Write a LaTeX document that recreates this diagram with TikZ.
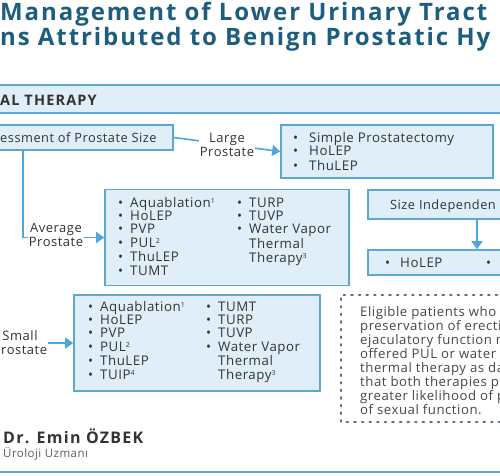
\documentclass[tikz,border=0pt]{standalone}
\usepackage{fontspec}
\setmainfont{Open Sans}[LetterSpace=4]
\newfontfamily\titlefont{Open Sans}[LetterSpace=8]
\usetikzlibrary{arrows.meta}
\definecolor{titlec}{HTML}{1D5E7E}
\definecolor{boxline}{HTML}{5EA7D3}
\definecolor{boxfill}{HTML}{DFEEF9}
\definecolor{arrowc}{HTML}{4FA6DA}
\definecolor{txt}{HTML}{333333}
\definecolor{dotc}{HTML}{55708A}
\newcommand\bl{\makebox[12pt][l]{\textbullet}}
\newcommand\blw{\makebox[16pt][l]{\textbullet}}
\newcommand\ind{\hspace*{12pt}}
\newcommand\sups[1]{\raisebox{4pt}{\fontsize{7}{8}\selectfont #1}}
\tikzset{
  box/.style={draw=boxline, fill=boxfill, line width=1.6pt, inner sep=0pt},
  arr/.style={draw=arrowc, line width=1.6pt, -{Triangle[length=8pt,width=11pt]}},
  lab/.style={fill=white, inner sep=1pt, align=center, text=txt, font={\fontsize{13}{14}\selectfont}},
  lst/.style={anchor=base west, inner sep=0pt, text=txt, font={\fontsize{13.3}{13.3}\selectfont}},
  boxtxt/.style={anchor=base west, inner sep=0pt, text=txt, font={\fontsize{12.8}{14}\selectfont}},
  ttl/.style={anchor=base west, inner sep=0pt, text=titlec, font={\titlefont\bfseries\fontsize{24}{28}\selectfont}}
}
\begin{document}
\begin{tikzpicture}[x=1pt,y=-1pt]
\useasboundingbox (0,0) rectangle (500,475);
\clip (0,0) rectangle (500,475);
% title
\node[ttl] (t1) at (0,20) {Management of Lower Urinary Tract};
\node[ttl] (t2) at (0,45) {ns Attributed to Benign Prostatic Hy};
% header band
\node[box, minimum width=520pt, minimum height=28pt] (hdr) at (250,99) {};
\node[anchor=base west, inner sep=0pt, text=txt, font={\titlefont\bfseries\fontsize{14.5}{16}\selectfont}] (hdrt) at (0,105) {AL THERAPY};
% assessment
\node[box, minimum width=188pt, minimum height=25pt] (assess) at (79,137.5) {};
\node[boxtxt] (assesst) at (0,142.5) {essment of Prostate Size};
% large
\node[box, minimum width=212pt, minimum height=53pt] (large) at (387,151.5) {};
\node[lst] (largel) at (293,142.5) {\begin{tabular}[t]{@{}l@{}}\blw Simple Prostatectomy\\ \blw HoLEP\\ \blw ThuLEP\end{tabular}};
% average
\node[box, minimum width=244pt, minimum height=96pt] (avg) at (227,237.5) {};
\node[lst] (avg1) at (118,207) {\begin{tabular}[t]{@{}l@{}}\bl Aquablation\sups{1}\\ \bl HoLEP\\ \bl PVP\\ \bl PUL\sups{2}\\ \bl ThuLEP\\ \bl TUMT\end{tabular}};
\node[lst] (avg2) at (237,207) {\begin{tabular}[t]{@{}l@{}}\bl TURP\\ \bl TUVP\\ \bl Water Vapor\\ \ind Thermal\\ \ind Therapy\sups{3}\end{tabular}};
% size independent
\node[box, minimum width=218pt, minimum height=29pt] (sizeind) at (477,204.5) {};
\node[boxtxt] (sizeindt) at (390,209.5) {Size Independen};
\node[box, minimum width=218pt, minimum height=25pt] (holep) at (477,262.5) {};
\node[lst] (holept) at (385,267) {\makebox[15pt][l]{\textbullet}HoLEP};
\node[lst] (holepb) at (486,267) {\textbullet};
% small
\node[box, minimum width=246pt, minimum height=96pt] (small) at (197,343) {};
\node[lst] (sm1) at (88,311) {\begin{tabular}[t]{@{}l@{}}\bl Aquablation\sups{1}\\ \bl HoLEP\\ \bl PVP\\ \bl PUL\sups{2}\\ \bl ThuLEP\\ \bl TUIP\sups{4}\end{tabular}};
\node[lst] (sm2) at (206,311) {\begin{tabular}[t]{@{}l@{}}\bl TUMT\\ \bl TURP\\ \bl TUVP\\ \bl Water Vapor\\ \ind Thermal\\ \ind Therapy\sups{3}\end{tabular}};
% dotted note
\draw[dotc, line width=2pt, dash pattern=on 1.6pt off 6pt, line cap=round] (520,295) -- (341,295) -- (341,422) -- (520,422);
\node[lst, text=txt!90, font={\fontsize{13.2}{13.4}\selectfont}] (note) at (360,316) {\begin{tabular}[t]{@{}l@{}}Eligible patients who\\ preservation of erecti\\ ejaculatory function m\\ offered PUL or water\\ thermal therapy as da\\ that both therapies p\\ greater likelihood of p\\ of sexual function.\end{tabular}};
% connectors
\coordinate (lft) at (23,0);
\coordinate (sx) at (477,0);
\coordinate (smstart) at (-5,343);
\draw[arr] (assess.east) -- node[lab] (lbl1) {Large\\Prostate} (large.west);
\draw[arr] (assess.south -| lft) |- (avg.west);
\node[lab] (lbl2) at (56,235) {Average\\Prostate};
\draw[arr] (sizeind.south -| sx) -- (holep.north -| sx);
\draw[arr] (smstart) -- (small.west);
\node[lab] (lbl3) at (20,343) {Small\\Prostate};
% author
\node[anchor=base west, inner sep=0pt, text=txt, font={\titlefont\bfseries\fontsize{16}{18}\selectfont}] (dr) at (3,443) {Dr. Emin ÖZBEK};
\node[anchor=base west, inner sep=0pt, text=txt!80, font={\fontsize{11.5}{13}\selectfont}] (uz) at (3,457) {Üroloji Uzmanı};
\coordinate (bl) at (-5,472);
\coordinate (br) at (505,472);
\draw[boxline, line width=2pt] (bl) -- (br);
\end{tikzpicture}
\end{document}
